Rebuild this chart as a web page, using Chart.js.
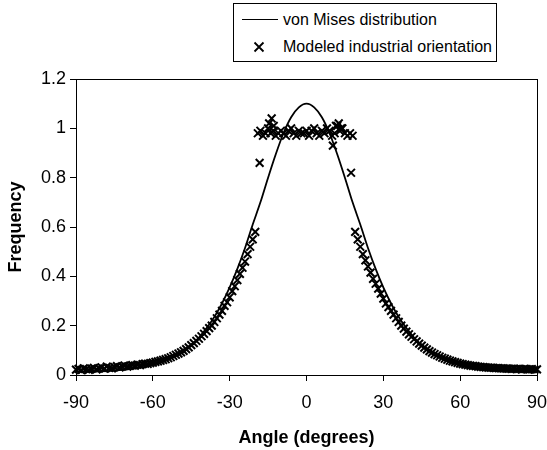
<!DOCTYPE html>
<html>
<head>
<meta charset="utf-8">
<script src="https://cdn.jsdelivr.net/npm/chart.js@4/dist/chart.umd.min.js"></script>
<style>
  html, body { margin: 0; padding: 0; background: #fff; }
  #wrap { position: relative; width: 547px; height: 450px; }
  #legend {
    position: absolute; left: 233px; top: 3px; width: 264px; height: 59px;
    box-sizing: border-box; border: 1.5px solid #000; background: #fff;
    font: 16px "Liberation Sans", Arial, sans-serif; color: #000;
  }
  .row { position: absolute; left: 0; right: 0; height: 20px; }
  .row span { position: absolute; left: 49px; top: 0; line-height: 20px; white-space: nowrap; }
  .sample { position: absolute; left: 8px; top: 9px; width: 36px; height: 0; border-top: 1.5px solid #000; }
  .row svg { position: absolute; left: 19px; top: 4px; }
</style>
</head>
<body>
<div id="wrap">
  <canvas id="chart" width="547" height="450"></canvas>
  <div id="legend">
    <div class="row" style="top:6px"><div class="sample"></div><span>von Mises distribution</span></div>
    <div class="row" style="top:33px">
      <svg width="12" height="12"><path d="M1.5 1.5 L10.5 10.5 M10.5 1.5 L1.5 10.5" stroke="#000" stroke-width="1.8"/></svg>
      <span>Modeled industrial orientation</span>
    </div>
  </div>
</div>
<script>
// fitted von Mises curve, every 3 degrees
var misesAngle = [-90, -87, -84, -81, -78, -75, -72, -69, -66, -63,
                  -60, -57, -54, -51, -48, -45, -42, -39, -36, -33,
                  -30, -27, -24, -21, -18, -15, -12, -9, -6, -3,
                  0, 3, 6, 9, 12, 15, 18, 21, 24, 27,
                  30, 33, 36, 39, 42, 45, 48, 51, 54, 57,
                  60, 63, 66, 69, 72, 75, 78, 81, 84, 87, 90];
var misesFreq = [0.014, 0.014, 0.014, 0.015, 0.016, 0.018, 0.021, 0.024, 0.028, 0.033,
                 0.041, 0.050, 0.062, 0.077, 0.097, 0.121, 0.152, 0.190, 0.235, 0.290,
                 0.355, 0.430, 0.515, 0.610, 0.700, 0.800, 0.895, 0.980, 1.045, 1.085,
                 1.100, 1.085, 1.045, 0.980, 0.895, 0.800, 0.700, 0.610, 0.515, 0.430,
                 0.355, 0.290, 0.235, 0.190, 0.152, 0.121, 0.097, 0.077, 0.062, 0.050,
                 0.041, 0.033, 0.028, 0.024, 0.021, 0.018, 0.016, 0.015, 0.014, 0.014, 0.014];

// modelled orientation frequencies
var modelAngle = [-90, -89, -88, -87, -86, -85, -84, -83, -82, -81,
                  -80, -79, -78, -77, -76, -75, -74, -73, -72, -71,
                  -70, -69, -68, -67, -66, -65, -64, -63, -62, -61,
                  -60, -59, -58, -57, -56, -55, -54, -53, -52, -51,
                  -50, -49, -48, -47, -46, -45, -44, -43, -42, -41,
                  -40, -39, -38, -37, -36, -35, -34, -33, -32, -31,
                  -30, -29, -28, -27, -26, -25, -24, -23, -22, -21,
                  -20, -19, -18, -17, -16, -15, -14, -13, -12, -11,
                  -10, -9, -8, -7, -6, -5, -4, -3, -2, -1,
                  0, 1, 2, 3, 4, 5, 6, 7, 8, 9,
                  10, 11, 12, 13, 14, 15, 16, 17, 18, 19,
                  20, 21, 22, 23, 24, 25, 26, 27, 28, 29,
                  30, 31, 32, 33, 34, 35, 36, 37, 38, 39,
                  40, 41, 42, 43, 44, 45, 46, 47, 48, 49,
                  50, 51, 52, 53, 54, 55, 56, 57, 58, 59,
                  60, 61, 62, 63, 64, 65, 66, 67, 68, 69,
                  70, 71, 72, 73, 74, 75, 76, 77, 78, 79,
                  80, 81, 82, 83, 84, 85, 86, 87, 88, 89,
                  90,
                  -18.3, -14.6, -13.6, -12.8, 10.3, 11.5, 12.6, 13.5, 17.4];
var modelFreq = [0.022, 0.025, 0.020, 0.027, 0.024, 0.021, 0.026, 0.029, 0.023, 0.027,
                 0.031, 0.026, 0.034, 0.029, 0.027, 0.032, 0.036, 0.031, 0.035, 0.038,
                 0.034, 0.037, 0.040, 0.038, 0.042, 0.040, 0.044, 0.046, 0.045, 0.048,
                 0.050, 0.053, 0.055, 0.058, 0.061, 0.064, 0.068, 0.072, 0.077, 0.082,
                 0.087, 0.092, 0.098, 0.105, 0.112, 0.121, 0.129, 0.138, 0.147, 0.157,
                 0.167, 0.178, 0.190, 0.200, 0.215, 0.230, 0.245, 0.260, 0.280, 0.295,
                 0.315, 0.340, 0.360, 0.385, 0.410, 0.435, 0.460, 0.490, 0.520, 0.550,
                 0.580, 0.980, 0.990, 0.970, 0.980, 1.000, 0.980, 0.990, 0.970, 0.980,
                 0.990, 0.980, 0.970, 0.990, 1.000, 0.980, 0.970, 0.990, 0.980, 0.980,
                 0.990, 0.970, 0.990, 1.000, 0.980, 0.970, 0.990, 0.980, 1.000, 0.990,
                 0.970, 0.980, 1.010, 0.990, 1.000, 0.980, 0.970, 0.980, 0.970, 0.580,
                 0.550, 0.520, 0.490, 0.465, 0.440, 0.415, 0.390, 0.370, 0.350, 0.330,
                 0.310, 0.290, 0.275, 0.260, 0.245, 0.230, 0.215, 0.200, 0.188, 0.176,
                 0.165, 0.155, 0.145, 0.136, 0.127, 0.119, 0.111, 0.104, 0.097, 0.091,
                 0.085, 0.080, 0.075, 0.070, 0.066, 0.062, 0.058, 0.055, 0.052, 0.049,
                 0.046, 0.044, 0.042, 0.040, 0.038, 0.037, 0.036, 0.034, 0.033, 0.032,
                 0.031, 0.030, 0.030, 0.029, 0.028, 0.028, 0.027, 0.027, 0.026, 0.026,
                 0.025, 0.026, 0.024, 0.025, 0.023, 0.025, 0.024, 0.023, 0.024, 0.022,
                 0.023,
                 0.860, 1.020, 1.040, 1.010, 0.930, 1.010, 1.020, 1.000, 0.820];

var xTicks = [-90, -60, -30, 0, 30, 60, 90];

function toPoints(xs, ys) {
  return xs.map(function (x, i) { return { x: x, y: ys[i] }; });
}

// full box round the plot area
var frame = {
  id: 'frame',
  beforeDatasetsDraw: function (chart) {
    var a = chart.chartArea, ctx = chart.ctx;
    ctx.save();
    ctx.strokeStyle = '#000';
    ctx.lineWidth = 1;
    ctx.strokeRect(a.left + 0.5, a.top + 0.5, a.right - a.left, a.bottom - a.top);
    ctx.restore();
  }
};

Chart.defaults.font.family = '"Liberation Sans", Arial, sans-serif';
Chart.defaults.color = '#000';

var ctx = document.getElementById('chart').getContext('2d');
var chart = new Chart(ctx, {
  type: 'scatter',
  data: {
    datasets: [{
      label: 'Modeled industrial orientation',
      data: toPoints(modelAngle, modelFreq),
      pointStyle: 'crossRot',
      pointRadius: 5.5,
      pointBorderWidth: 2,
      borderColor: '#000',
      backgroundColor: '#000',
      clip: false
    }, {
      type: 'line',
      label: 'von Mises distribution',
      data: toPoints(misesAngle, misesFreq),
      borderColor: '#000',
      borderWidth: 1.8,
      pointRadius: 0,
      cubicInterpolationMode: 'monotone',
      fill: false
    }]
  },
  options: {
    responsive: false,
    animation: false,
    layout: { padding: { top: 79, right: 10, left: 0, bottom: 0 } },
    plugins: { legend: { display: false }, tooltip: { enabled: false } },
    scales: {
      x: {
        type: 'linear',
        min: -90, max: 90,
        afterBuildTicks: function (scale) {
          scale.ticks = xTicks.map(function (v) { return { value: v }; });
        },
        ticks: { font: { size: 18 }, padding: 11, maxRotation: 0 },
        grid: { drawOnChartArea: false, tickLength: 6, color: '#000' },
        border: { color: '#000', width: 1 },
        title: { display: true, text: 'Angle (degrees)', font: { size: 18, weight: 'bold' }, padding: { top: 0, bottom: 1 } },
        afterFit: function (scale) {
          scale.height = 75;
          scale.paddingLeft = 0;
          scale.paddingRight = 0;
        }
      },
      y: {
        min: 0, max: 1.2,
        ticks: {
          stepSize: 0.2, font: { size: 18 }, padding: 4,
          callback: function (v) { return String(Number(v.toFixed(1))); }
        },
        grid: { drawOnChartArea: false, tickLength: 6, color: '#000' },
        border: { color: '#000', width: 1 },
        title: { display: true, text: 'Frequency', font: { size: 18, weight: 'bold' }, padding: { top: 5, bottom: 0 } },
        afterFit: function (scale) { scale.width = 76; }
      }
    }
  },
  plugins: [frame]
});
</script>
</body>
</html>
